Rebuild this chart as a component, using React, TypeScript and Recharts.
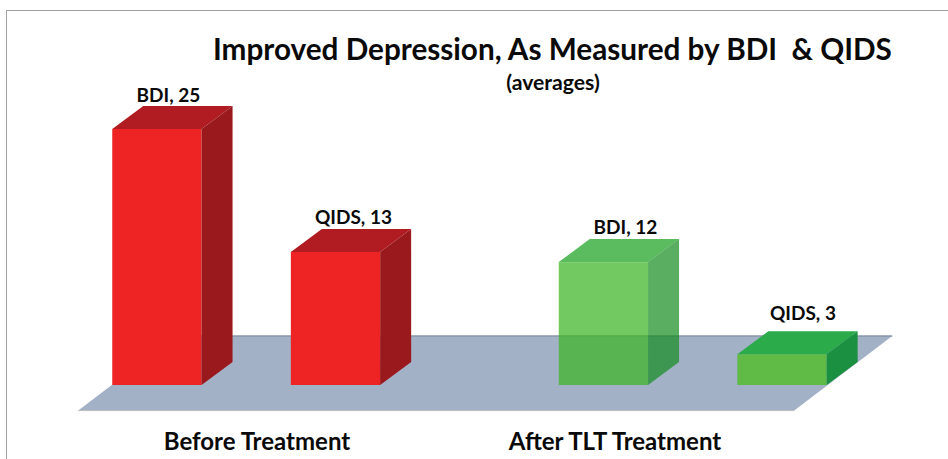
import React from 'react';
import { BarChart, Bar, XAxis, YAxis, ReferenceArea, LabelList } from 'recharts';

const categories = ['Before Treatment', 'After TLT Treatment'];
const bdiValues = [25, 12];
const qidsValues = [13, 3];

const data = categories.map((name, i) => ({ name, BDI: bdiValues[i], QIDS: qidsValues[i] }));

const FONT = 'Lato, "Open Sans", sans-serif';
const DEPTH_X = 31;
const DEPTH_Y = 23;

// front, top, side
const bdiFaces = [
  ['#ee2324', '#b11c22', '#9a191d'],
  ['rgba(60,180,36,0.72)', '#5bbc5f', 'rgba(20,140,30,0.7)'],
];
const qidsFaces = [
  ['#ee2324', '#b11c22', '#9a191d'],
  ['#5fbb46', '#2bab4a', '#1a9040'],
];

// labels sit off-centre in the original
const tickShift = [10.5, -78];
const bdiLabelShift = [[11.5, -34.5], [22, -35.7]];
const qidsLabelShift = [[18, -35], [21, -42]];

const Box3D = (faces: string[][]) => (props: any) => {
  const { x, y, width, height, index } = props;
  const [front, top, side] = faces[index];
  const r = x + width;
  const b = y + height;
  return (
    <g>
      <rect x={x} y={y} width={width} height={height} fill={front} />
      <polygon
        points={`${x},${y} ${x + DEPTH_X},${y - DEPTH_Y} ${r + DEPTH_X},${y - DEPTH_Y} ${r},${y}`}
        fill={top}
      />
      <polygon
        points={`${r},${y} ${r + DEPTH_X},${y - DEPTH_Y} ${r + DEPTH_X},${b - DEPTH_Y} ${r},${b}`}
        fill={side}
      />
    </g>
  );
};

const Floor = (props: any) => {
  const { x, y, width, height } = props;
  const bl = x + 55;
  const br = bl + 716;
  const slant = 98;
  const bottom = y + height;
  return (
    <g>
      <polygon
        points={`${bl},${bottom} ${bl + slant},${y} ${br + slant},${y} ${br},${bottom}`}
        fill="#a2b1c6"
      />
      <line x1={bl + slant} y1={y} x2={br + slant} y2={y} stroke="#8a97a8" strokeWidth={1.5} />
      <line x1={bl} y1={bottom} x2={br} y2={bottom} stroke="#bcbcbc" strokeWidth={1} />
    </g>
  );
};

const BarLabel = (name: string, shifts: number[][]) => (props: any) => {
  const { x, y, width, value, index } = props;
  return (
    <text
      x={x + width / 2 + shifts[index][0]}
      y={y + shifts[index][1]}
      textAnchor="middle"
      dominantBaseline="central"
      fontFamily={FONT}
      fontWeight={700}
      fontSize={19}
      fill="#0a0a0a"
    >
      {`${name}, ${value}`}
    </text>
  );
};

const CategoryTick = (props: any) => {
  const { x, y, payload, index } = props;
  return (
    <text
      x={x + tickShift[index]}
      y={y + 22}
      textAnchor="middle"
      dominantBaseline="central"
      fontFamily={FONT}
      fontWeight={700}
      fontSize={24}
      fill="#0a0a0a"
    >
      {payload.value}
    </text>
  );
};

export default function App() {
  return (
    <div style={{ position: 'absolute', left: 0, top: 0, width: 948, height: 459, overflow: 'hidden', background: '#fff' }}>
      <div style={{ position: 'absolute', left: 6, top: 9.5, right: 0, bottom: 0, borderLeft: '1.5px solid #a0a0a0', borderTop: '1.5px solid #a0a0a0' }} />
      <BarChart
        width={948}
        height={459}
        data={data}
        margin={{ top: 77.8, right: 31.75, left: 23.25, bottom: 18.4 }}
        barSize={89.3}
        barGap={89.3}
        style={{ position: 'absolute', left: 0, top: 0 }}
      >
        <XAxis dataKey="name" height={30} axisLine={false} tickLine={false} interval={0} tick={CategoryTick} />
        <YAxis hide domain={[-2.5, 30]} />
        <ReferenceArea y1={-2.5} y2={4.785} shape={Floor} />
        <Bar dataKey="BDI" shape={Box3D(bdiFaces)} isAnimationActive={false}>
          <LabelList dataKey="BDI" content={BarLabel('BDI', bdiLabelShift)} />
        </Bar>
        <Bar dataKey="QIDS" shape={Box3D(qidsFaces)} isAnimationActive={false}>
          <LabelList dataKey="QIDS" content={BarLabel('QIDS', qidsLabelShift)} />
        </Bar>
      </BarChart>
      <div style={{ position: 'absolute', left: 213, top: 30, fontFamily: FONT, fontWeight: 700, fontSize: 29.7, lineHeight: '38px', color: '#0a0a0a', whiteSpace: 'pre' }}>
        {'Improved Depression, As Measured by BDI  & QIDS'}
      </div>
      <div style={{ position: 'absolute', left: 453, width: 200, top: 71, textAlign: 'center', fontFamily: FONT, fontWeight: 700, fontSize: 21.2, lineHeight: '22px', color: '#0a0a0a' }}>
        (averages)
      </div>
    </div>
  );
}
